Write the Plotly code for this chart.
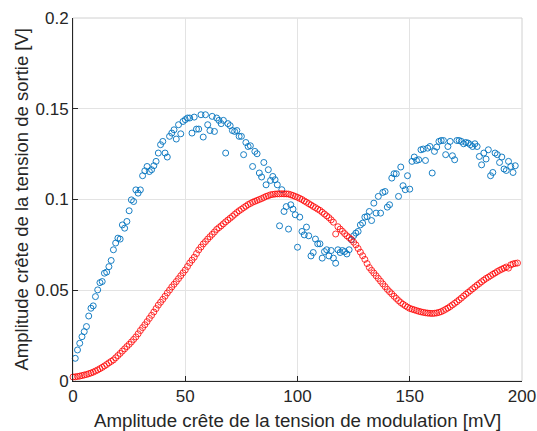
import plotly.graph_objects as go

# Modulation amplitude [mV]
x_red = list(range(0, 199))
x_blue = list(range(1, 198))

# Red series (smooth) output amplitude [V]
y_red = [
    0.0022, 0.0023, 0.0025, 0.0027, 0.0030, 0.0033, 0.0036, 0.0040, 0.0044, 0.0049, 0.0055,
    0.0061, 0.0068, 0.0075, 0.0083, 0.0091, 0.0100, 0.0108, 0.0116, 0.0128, 0.0140,
    0.0152, 0.0165, 0.0177, 0.0190, 0.0202, 0.0215, 0.0229, 0.0243, 0.0260, 0.0278,
    0.0294, 0.0310, 0.0327, 0.0345, 0.0362, 0.0380, 0.0399, 0.0418, 0.0434, 0.0450,
    0.0467, 0.0485, 0.0501, 0.0518, 0.0533, 0.0548, 0.0564, 0.0580, 0.0596, 0.0612,
    0.0631, 0.0650, 0.0666, 0.0682, 0.0702, 0.0722, 0.0738, 0.0755, 0.0768, 0.0782,
    0.0795, 0.0808, 0.0821, 0.0835, 0.0845, 0.0855, 0.0866, 0.0877, 0.0887, 0.0897,
    0.0907, 0.0918, 0.0928, 0.0938, 0.0946, 0.0955, 0.0963, 0.0972, 0.0978, 0.0985,
    0.0990, 0.0995, 0.1000, 0.1005, 0.1011, 0.1017, 0.1021, 0.1026, 0.1028, 0.1030,
    0.1031, 0.1031, 0.1032, 0.1031, 0.1031, 0.1030, 0.1026, 0.1022, 0.1017, 0.1012,
    0.1006, 0.1000, 0.0992, 0.0985, 0.0977, 0.0970, 0.0962, 0.0955, 0.0947, 0.0940,
    0.0930, 0.0920, 0.0910, 0.0900, 0.0888, 0.0875, 0.0810, 0.0850, 0.0837, 0.0825,
    0.0812, 0.0800, 0.0790, 0.0780, 0.0765, 0.0750, 0.0730, 0.0710, 0.0690, 0.0670,
    0.0647, 0.0625, 0.0610, 0.0595, 0.0580, 0.0565, 0.0550, 0.0535, 0.0520, 0.0505,
    0.0492, 0.0480, 0.0467, 0.0455, 0.0443, 0.0432, 0.0423, 0.0415, 0.0407, 0.0400,
    0.0396, 0.0392, 0.0388, 0.0384, 0.0381, 0.0378, 0.0376, 0.0374, 0.0373, 0.0372,
    0.0373, 0.0375, 0.0378, 0.0382, 0.0388, 0.0395, 0.0402, 0.0410, 0.0419, 0.0428,
    0.0437, 0.0447, 0.0457, 0.0468, 0.0478, 0.0488, 0.0498, 0.0508, 0.0518, 0.0528,
    0.0537, 0.0547, 0.0556, 0.0565, 0.0572, 0.0580, 0.0588, 0.0595, 0.0603, 0.0610,
    0.0616, 0.0622, 0.0628, 0.0622, 0.0640, 0.0645, 0.0648, 0.0650,
]

# Blue series (noisy) output amplitude [V]
y_blue = [
    0.0125, 0.0171, 0.0208, 0.0244, 0.0272, 0.0300, 0.0358, 0.0401, 0.0414, 0.0465,
    0.0502, 0.0542, 0.0548, 0.0594, 0.0600, 0.0630, 0.0664, 0.0723, 0.0760, 0.0787,
    0.0782, 0.0860, 0.0842, 0.0879, 0.0938, 0.0998, 0.0989, 0.1053, 0.1035, 0.1053,
    0.1131, 0.1158, 0.1182, 0.1154, 0.1164, 0.1186, 0.1210, 0.1256, 0.1302, 0.1320,
    0.1256, 0.1234, 0.1348, 0.1366, 0.1384, 0.1333, 0.1412, 0.1362, 0.1430, 0.1440,
    0.1449, 0.1449, 0.1366, 0.1454, 0.1388, 0.1388, 0.1467, 0.1344, 0.1467, 0.1412,
    0.1380, 0.1458, 0.1375, 0.1449, 0.1436, 0.1418, 0.1436, 0.1256, 0.1418, 0.1407,
    0.1380, 0.1375, 0.1380, 0.1348, 0.1348, 0.1247, 0.1314, 0.1292, 0.1296, 0.1182,
    0.1265, 0.1252, 0.1146, 0.1124, 0.1204, 0.1081, 0.1164, 0.1105, 0.1127, 0.1109,
    0.1081, 0.0855, 0.1054, 0.0934, 0.0961, 0.0837, 0.0971, 0.0947, 0.0916, 0.0737,
    0.0903, 0.0824, 0.0805, 0.0848, 0.0800, 0.0689, 0.0708, 0.0782, 0.0756, 0.0756,
    0.0677, 0.0713, 0.0723, 0.0689, 0.0719, 0.0677, 0.0649, 0.0723, 0.0708, 0.0719,
    0.0713, 0.0700, 0.0723, 0.0778, 0.0800, 0.0815, 0.0824, 0.0860, 0.0870, 0.0903,
    0.0906, 0.0934, 0.0884, 0.0980, 0.0925, 0.1017, 0.0925, 0.1039, 0.1044, 0.0958,
    0.0971, 0.1118, 0.1142, 0.1142, 0.1017, 0.1179, 0.1076, 0.1054, 0.1131, 0.1057,
    0.1210, 0.1234, 0.1215, 0.1219, 0.1274, 0.1278, 0.1215, 0.1283, 0.1292, 0.1146,
    0.1265, 0.1289, 0.1320, 0.1325, 0.1325, 0.1247, 0.1292, 0.1320, 0.1241, 0.1219,
    0.1325, 0.1325, 0.1320, 0.1307, 0.1314, 0.1311, 0.1302, 0.1292, 0.1307, 0.1292,
    0.1237, 0.1191, 0.1256, 0.1223, 0.1274, 0.1131, 0.1149, 0.1256, 0.1247, 0.1204,
    0.1234, 0.1168, 0.1160, 0.1210, 0.1182, 0.1149, 0.1186,
]

x_ticks = [0, 50, 100, 150, 200]
y_ticks = [0, 0.05, 0.1, 0.15, 0.2]
y_tick_labels = ["0", "0.05", "0.1", "0.15", "0.2"]

x_title = "Amplitude crête de la tension de modulation [mV]"
y_title = "Amplitude crête de la tension de sortie [V]"

FONT = "Liberation Sans, Arial, sans-serif"
AXIS_COLOR = "#262626"
GRID_COLOR = "#E3E3E3"

fig = go.Figure()
fig.add_trace(go.Scatter(
    x=x_blue, y=y_blue, mode="markers",
    marker=dict(symbol="circle-open", size=6, color="#0072BD", line=dict(width=0.9)),
    showlegend=False, cliponaxis=False,
))
fig.add_trace(go.Scatter(
    x=x_red[:len(y_red)], y=y_red, mode="markers",
    marker=dict(symbol="circle-open", size=6, color="#FF0000", line=dict(width=0.8)),
    showlegend=False, cliponaxis=False,
))

fig.update_layout(
    width=537, height=431,
    margin=dict(l=73, r=15, t=18, b=50, autoexpand=False),
    paper_bgcolor="white", plot_bgcolor="white",
    font=dict(family=FONT, size=17, color=AXIS_COLOR),
)
fig.update_xaxes(
    range=[0, 200], tickvals=x_ticks, ticks="inside", ticklen=5,
    tickcolor=AXIS_COLOR, showline=True, linecolor=AXIS_COLOR, linewidth=1,
    mirror=False, showgrid=True, gridcolor=GRID_COLOR, gridwidth=1, zeroline=False,
    tickfont=dict(size=17, color=AXIS_COLOR), automargin=False,
)
fig.update_yaxes(
    range=[0, 0.2], tickvals=y_ticks, ticktext=y_tick_labels, ticks="inside", ticklen=5,
    tickcolor=AXIS_COLOR, showline=True, linecolor=AXIS_COLOR, linewidth=1,
    mirror=False, showgrid=True, gridcolor=GRID_COLOR, gridwidth=1, zeroline=False,
    tickfont=dict(size=17, color=AXIS_COLOR), automargin=False,
)
# light box edges on top and right
fig.add_shape(type="rect", xref="paper", yref="paper", x0=0, y0=0, x1=1, y1=1,
              line=dict(color="#D0D0D0", width=1), layer="below")

# axis titles
fig.add_annotation(text=x_title, xref="paper", yref="paper", x=0.5, y=0,
                   yshift=-39, xanchor="center", yanchor="middle", showarrow=False,
                   font=dict(size=18.7, color=AXIS_COLOR, family=FONT))
fig.add_annotation(text=y_title, xref="paper", yref="paper", x=0, y=0.5,
                   xshift=-52, xanchor="center", yanchor="middle", showarrow=False,
                   textangle=-90,
                   font=dict(size=18.5, color=AXIS_COLOR, family=FONT))

fig.write_html(
    "out.html",
    config={"displayModeBar": False},
    post_script="document.body.style.margin='0';document.body.style.overflow='hidden';",
)
